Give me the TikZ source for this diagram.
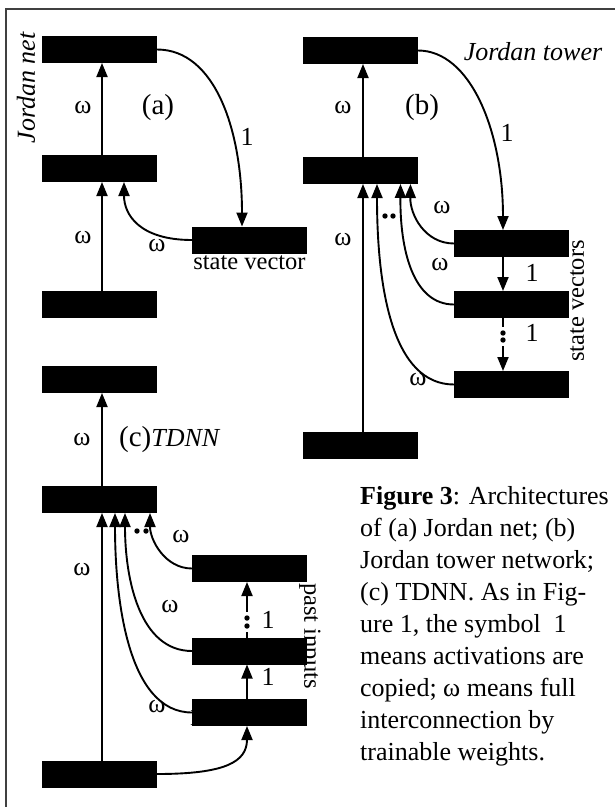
\documentclass[tikz,border=0pt]{standalone}
\usepackage{fontspec}
\setmainfont{Liberation Serif}
\usetikzlibrary{arrows.meta}
\begin{document}
\begin{tikzpicture}[x=1pt,y=-1pt,
  layer/.style={fill=black, draw=none, minimum width=115pt, minimum height=27pt, inner sep=0pt, outer sep=0pt},
  conn/.style={line width=1.9pt, -{Triangle[length=14pt,width=11pt]}},
  lbl/.style={font=\fontsize{26}{30}\selectfont, inner sep=0pt},
  big/.style={font=\fontsize{29}{32}\selectfont, inner sep=0pt},
  captext/.style={font=\fontsize{26}{32}\selectfont, inner sep=0pt, anchor=base west},
  dotmark/.style={fill=black}]
\useasboundingbox (0,0) rectangle (615,807);
% frame
\draw[line width=1.8pt, black!75] (6,807) -- (6,9) -- (615,9);

% ---------- (a) ----------
\node[layer] (aTop) at (99.5,49.5) {};
\node[layer] (aMid) at (99.5,168.5) {};
\node[layer] (aBot) at (99.5,304.5) {};
\node[layer] (aSV) at (249.5,240) {};
\draw[conn] ([xshift=2.5pt]aBot.north) -- ([xshift=2.5pt]aMid.south);
\draw[conn] ([xshift=2.5pt]aMid.north) -- ([xshift=2.5pt]aTop.south);
\draw[conn] (aTop.east) .. controls (215,49.5) and (242,130) .. ([xshift=-7.5pt]aSV.north);
\draw[conn] (aSV.west) .. controls (140,240) and (124,215) .. ([xshift=24.5pt]aMid.south);
\node[lbl] (aw1) at (83,108) {ω};
\node[lbl] (aw2) at (83,238) {ω};
\node[lbl] (aw3) at (157,246) {ω};
\node[lbl] (a1) at (247,137) {1};
\node[big] (alab) at (158,108) {(a)};
\node[lbl, font=\fontsize{24.5}{28}\selectfont] (asv) at (249.5,263) {state vector};
\node[lbl, rotate=90, font=\fontsize{26}{30}\selectfont\itshape] (ajn) at (26,88) {Jordan net};

% ---------- (b) ----------
\node[layer] (bTop) at (360.5,50.5) {};
\node[layer] (bMid) at (360.5,170.5) {};
\node[layer] (bBot) at (360.5,445.5) {};
\node[layer] (bS1) at (511.5,243.5) {};
\node[layer] (bS2) at (511.5,304.5) {};
\node[layer] (bS3) at (511.5,384.5) {};
\draw[conn] ([xshift=2.5pt]bBot.north) -- ([xshift=2.5pt]bMid.south);
\draw[conn] ([xshift=2.5pt]bMid.north) -- ([xshift=2.5pt]bTop.south);
\draw[conn] (bTop.east) .. controls (470,50.5) and (503,130) .. ([xshift=-8.5pt]bS1.north);
\draw[conn] (bS1.west) .. controls (425,243.5) and (410,215) .. ([xshift=50pt]bMid.south);
\draw[conn] (bS2.west) .. controls (413,304.5) and (400,250) .. ([xshift=40pt]bMid.south);
\draw[conn] (bS3.west) .. controls (393,384.5) and (377,290) .. ([xshift=16.5pt]bMid.south);
\draw[conn] ([xshift=-8.5pt]bS1.south) -- ([xshift=-8.5pt]bS2.north);
\draw[conn, dash pattern=on 9pt off 19pt on 40pt] ([xshift=-8.5pt]bS2.south) -- ([xshift=-8.5pt]bS3.north);
\fill[dotmark] (503,333) circle (2.7);
\fill[dotmark] (503,340) circle (2.7);
\fill[dotmark] (385,216) circle (2.7);
\fill[dotmark] (393,216) circle (2.7);
\node[lbl] (bw1) at (343,108) {ω};
\node[lbl] (bw2) at (343,240) {ω};
\node[lbl] (bw3) at (442,208) {ω};
\node[lbl] (bw4) at (440,265) {ω};
\node[lbl] (bw5) at (418,380) {ω};
\node[lbl] (b1a) at (507,133) {1};
\node[lbl] (b1b) at (532,273) {1};
\node[lbl] (b1c) at (532,333) {1};
\node[big] (blab) at (422,108) {(b)};
\node[lbl, font=\fontsize{26}{30}\selectfont\itshape] (bjt) at (533,52) {Jordan tower};
\node[lbl, rotate=90, font=\fontsize{24.5}{28}\selectfont] (bsv) at (577,301) {state vectors};

% ---------- (c) ----------
\node[layer] (cTop) at (99.5,379.5) {};
\node[layer] (cMid) at (99.5,499.5) {};
\node[layer] (cBot) at (99.5,774) {};
\node[layer] (cP1) at (249.5,568.5) {};
\node[layer] (cP2) at (249.5,651) {};
\node[layer] (cP3) at (249.5,712.5) {};
\draw[conn] ([xshift=2.5pt]cBot.north) -- ([xshift=2.5pt]cMid.south);
\draw[conn] ([xshift=2.5pt]cMid.north) -- ([xshift=2.5pt]cTop.south);
\draw[conn] (cP1.west) .. controls (165,568.5) and (150,540) .. ([xshift=50.5pt]cMid.south);
\draw[conn] (cP2.west) .. controls (140,651) and (125,580) .. ([xshift=25.5pt]cMid.south);
\draw[conn] (cP3.west) .. controls (128,712.5) and (115,600) .. ([xshift=15.5pt]cMid.south);
\draw[conn] ([xshift=-2.5pt]cP3.north) -- ([xshift=-2.5pt]cP2.south);
\draw[conn, dash pattern=on 6pt off 20pt on 40pt] ([xshift=-2.5pt]cP2.north) -- ([xshift=-2.5pt]cP1.south);
\draw[conn] (cBot.east) .. controls (225,774) and (247,762) .. ([xshift=-2.5pt]cP3.south);
\fill[dotmark] (247,618) circle (2.7);
\fill[dotmark] (247,626) circle (2.7);
\fill[dotmark] (137,531) circle (2.7);
\fill[dotmark] (146,531) circle (2.7);
\node[lbl] (cw1) at (82,440) {ω};
\node[lbl] (cw2) at (82,570) {ω};
\node[lbl] (cw3) at (181,537) {ω};
\node[lbl] (cw4) at (170,607) {ω};
\node[lbl] (cw5) at (157,707) {ω};
\node[lbl] (c1a) at (268,620) {1};
\node[lbl] (c1b) at (268,677) {1};
\node[lbl] (c1c) at (195,717) {1};
\node[lbl, anchor=west] (clab) at (119,440) {{\fontsize{29}{32}\selectfont(c)}{\itshape TDNN}};
\node[lbl, rotate=-90, font=\fontsize{24.5}{28}\selectfont] (cpi) at (310,636) {past inputs};

% ---------- caption ----------
\node[captext] (cap1) at (360,504) {\textbf{Figure 3}: Architectures};
\node[captext] (cap2) at (360,536) {of (a) Jordan net; (b)};
\node[captext] (cap3) at (360,568) {Jordan tower network;};
\node[captext] (cap4) at (360,600) {(c) TDNN. As in Fig-};
\node[captext] (cap5) at (360,632) {ure 1, the symbol\ \ 1};
\node[captext] (cap6) at (360,664) {means activations are};
\node[captext] (cap7) at (360,696) {copied; ω means full};
\node[captext] (cap8) at (360,728) {interconnection by};
\node[captext] (cap9) at (360,760) {trainable weights.};
\end{tikzpicture}
\end{document}
